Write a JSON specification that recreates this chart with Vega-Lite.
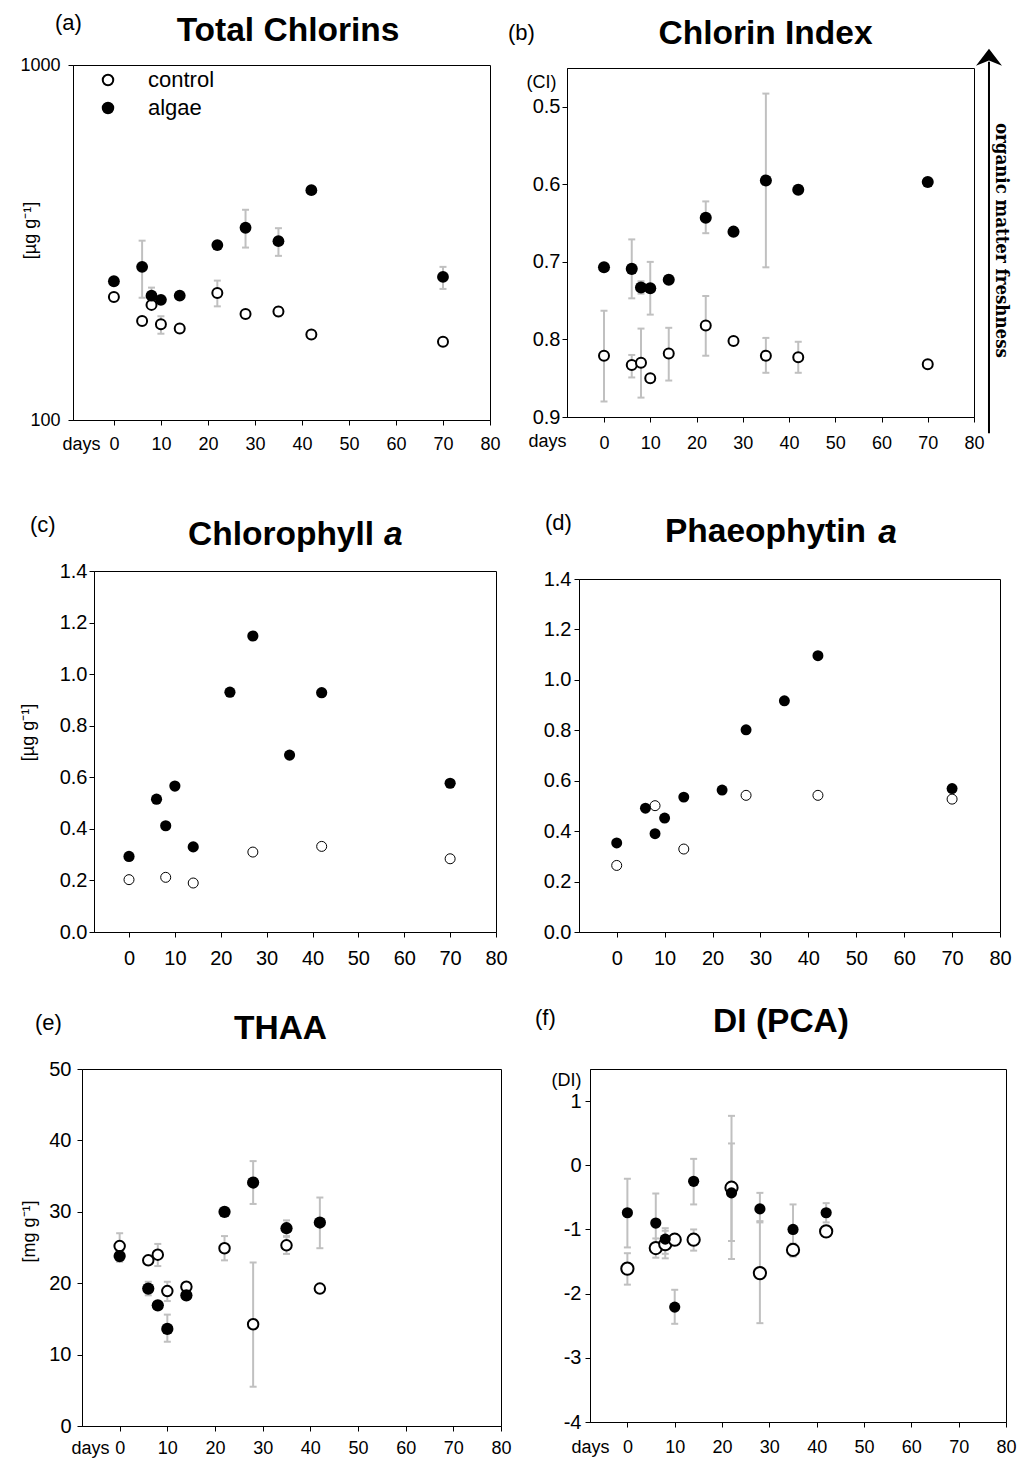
{
  "$schema": "https://vega.github.io/schema/vega-lite/v6.json",
  "padding": 0,
  "background": "white",
  "spacing": 0,
  "bounds": "flush",
  "config": {
    "font": "Liberation Sans",
    "view": {"stroke": "#000", "strokeWidth": 1},
    "axis": {"grid": false, "domainColor": "#000", "tickColor": "#000", "labelColor": "#000", "titleColor": "#000", "labelFontSize": 18, "titleFontSize": 18, "titleFontWeight": "normal", "tickSize": 5, "labelFlush": false, "labelOverlap": false, "labelFont": "Liberation Sans", "titleFont": "Liberation Sans"},
    "title": {"font": "Liberation Sans", "fontSize": 33.5, "fontWeight": "bold", "color": "#000", "frame": "group"}
  },
  "datasets": {
    "A": [
      {"d": 0, "g": "control", "v": 222},
      {"d": 6, "g": "control", "v": 190},
      {"d": 8, "g": "control", "v": 211},
      {"d": 10, "g": "control", "v": 186, "lo": 175, "hi": 196},
      {"d": 14, "g": "control", "v": 181},
      {"d": 22, "g": "control", "v": 228, "lo": 209, "hi": 247},
      {"d": 28, "g": "control", "v": 199},
      {"d": 35, "g": "control", "v": 202, "lo": 196, "hi": 208},
      {"d": 42, "g": "control", "v": 174},
      {"d": 70, "g": "control", "v": 166},
      {"d": 0, "g": "algae", "v": 246},
      {"d": 6, "g": "algae", "v": 270, "lo": 221, "hi": 320},
      {"d": 8, "g": "algae", "v": 224, "lo": 213, "hi": 236},
      {"d": 10, "g": "algae", "v": 218},
      {"d": 14, "g": "algae", "v": 224},
      {"d": 22, "g": "algae", "v": 311},
      {"d": 28, "g": "algae", "v": 348, "lo": 306, "hi": 391},
      {"d": 35, "g": "algae", "v": 319, "lo": 290, "hi": 347},
      {"d": 42, "g": "algae", "v": 444},
      {"d": 70, "g": "algae", "v": 253, "lo": 234, "hi": 270}
    ],
    "B": [
      {"d": 0, "g": "control", "v": 0.821, "lo": 0.763, "hi": 0.880},
      {"d": 6, "g": "control", "v": 0.833, "lo": 0.820, "hi": 0.849},
      {"d": 8, "g": "control", "v": 0.830, "lo": 0.786, "hi": 0.875},
      {"d": 10, "g": "control", "v": 0.850},
      {"d": 14, "g": "control", "v": 0.818, "lo": 0.785, "hi": 0.853},
      {"d": 22, "g": "control", "v": 0.782, "lo": 0.744, "hi": 0.821},
      {"d": 28, "g": "control", "v": 0.802},
      {"d": 35, "g": "control", "v": 0.821, "lo": 0.798, "hi": 0.843},
      {"d": 42, "g": "control", "v": 0.823, "lo": 0.803, "hi": 0.843},
      {"d": 70, "g": "control", "v": 0.832},
      {"d": 0, "g": "algae", "v": 0.707},
      {"d": 6, "g": "algae", "v": 0.709, "lo": 0.671, "hi": 0.747},
      {"d": 8, "g": "algae", "v": 0.733, "lo": 0.725, "hi": 0.741},
      {"d": 10, "g": "algae", "v": 0.734, "lo": 0.700, "hi": 0.768},
      {"d": 14, "g": "algae", "v": 0.723},
      {"d": 22, "g": "algae", "v": 0.643, "lo": 0.622, "hi": 0.663},
      {"d": 28, "g": "algae", "v": 0.661},
      {"d": 35, "g": "algae", "v": 0.595, "lo": 0.483, "hi": 0.707},
      {"d": 42, "g": "algae", "v": 0.607},
      {"d": 70, "g": "algae", "v": 0.597, "lo": 0.592, "hi": 0.602}
    ],
    "C": [
      {"d": 0, "g": "control", "v": 0.203},
      {"d": 8, "g": "control", "v": 0.212},
      {"d": 14, "g": "control", "v": 0.190},
      {"d": 27, "g": "control", "v": 0.310},
      {"d": 42, "g": "control", "v": 0.332},
      {"d": 70, "g": "control", "v": 0.284},
      {"d": 0, "g": "algae", "v": 0.293},
      {"d": 6, "g": "algae", "v": 0.515},
      {"d": 8, "g": "algae", "v": 0.412},
      {"d": 10, "g": "algae", "v": 0.566},
      {"d": 14, "g": "algae", "v": 0.330},
      {"d": 22, "g": "algae", "v": 0.930},
      {"d": 27, "g": "algae", "v": 1.148},
      {"d": 35, "g": "algae", "v": 0.686},
      {"d": 42, "g": "algae", "v": 0.928},
      {"d": 70, "g": "algae", "v": 0.577}
    ],
    "D": [
      {"d": 0, "g": "control", "v": 0.264},
      {"d": 8, "g": "control", "v": 0.501},
      {"d": 14, "g": "control", "v": 0.329},
      {"d": 27, "g": "control", "v": 0.542},
      {"d": 42, "g": "control", "v": 0.542},
      {"d": 70, "g": "control", "v": 0.527},
      {"d": 0, "g": "algae", "v": 0.353},
      {"d": 6, "g": "algae", "v": 0.491},
      {"d": 8, "g": "algae", "v": 0.390},
      {"d": 10, "g": "algae", "v": 0.452},
      {"d": 14, "g": "algae", "v": 0.535},
      {"d": 22, "g": "algae", "v": 0.563},
      {"d": 27, "g": "algae", "v": 0.802},
      {"d": 35, "g": "algae", "v": 0.917},
      {"d": 42, "g": "algae", "v": 1.096},
      {"d": 70, "g": "algae", "v": 0.569}
    ],
    "E": [
      {"d": 0, "g": "control", "v": 25.2, "lo": 23.4, "hi": 27.0},
      {"d": 6, "g": "control", "v": 23.2},
      {"d": 8, "g": "control", "v": 24.0, "lo": 22.4, "hi": 25.5},
      {"d": 10, "g": "control", "v": 18.9, "lo": 17.5, "hi": 20.2},
      {"d": 14, "g": "control", "v": 19.5},
      {"d": 22, "g": "control", "v": 24.9, "lo": 23.2, "hi": 26.6},
      {"d": 28, "g": "control", "v": 14.25, "lo": 5.5, "hi": 22.9},
      {"d": 35, "g": "control", "v": 25.3, "lo": 24.1, "hi": 26.5},
      {"d": 42, "g": "control", "v": 19.25},
      {"d": 0, "g": "algae", "v": 23.8, "lo": 23.0, "hi": 24.6},
      {"d": 6, "g": "algae", "v": 19.25, "lo": 18.3, "hi": 20.2},
      {"d": 8, "g": "algae", "v": 16.9},
      {"d": 10, "g": "algae", "v": 13.6, "lo": 11.8, "hi": 15.6},
      {"d": 14, "g": "algae", "v": 18.3},
      {"d": 22, "g": "algae", "v": 30.0},
      {"d": 28, "g": "algae", "v": 34.1, "lo": 31.1, "hi": 37.1},
      {"d": 35, "g": "algae", "v": 27.7, "lo": 26.6, "hi": 28.8},
      {"d": 42, "g": "algae", "v": 28.5, "lo": 24.9, "hi": 32.0}
    ],
    "F": [
      {"d": 0, "g": "control", "v": -1.61, "lo": -1.86, "hi": -1.37},
      {"d": 6, "g": "control", "v": -1.29, "lo": -1.44, "hi": -1.14},
      {"d": 8, "g": "control", "v": -1.23, "lo": -1.45, "hi": -1.02},
      {"d": 10, "g": "control", "v": -1.16},
      {"d": 14, "g": "control", "v": -1.16, "lo": -1.33, "hi": -1.0},
      {"d": 22, "g": "control", "v": -0.35, "lo": -1.46, "hi": 0.77},
      {"d": 28, "g": "control", "v": -1.68, "lo": -2.46, "hi": -0.87},
      {"d": 35, "g": "control", "v": -1.32, "lo": -1.42, "hi": -1.22},
      {"d": 42, "g": "control", "v": -1.03},
      {"d": 0, "g": "algae", "v": -0.74, "lo": -1.28, "hi": -0.21},
      {"d": 6, "g": "algae", "v": -0.90, "lo": -1.36, "hi": -0.44},
      {"d": 8, "g": "algae", "v": -1.15, "lo": -1.38, "hi": -0.98},
      {"d": 10, "g": "algae", "v": -2.21, "lo": -2.47, "hi": -1.94},
      {"d": 14, "g": "algae", "v": -0.25, "lo": -0.61, "hi": 0.10},
      {"d": 22, "g": "algae", "v": -0.43, "lo": -1.18, "hi": 0.34},
      {"d": 28, "g": "algae", "v": -0.68, "lo": -0.89, "hi": -0.43},
      {"d": 35, "g": "algae", "v": -1.0, "lo": -1.42, "hi": -0.61},
      {"d": 42, "g": "algae", "v": -0.74, "lo": -0.89, "hi": -0.59}
    ]
  },
  "vconcat": [
    {"width": 1, "height": 65, "data": {"values": [{}]}, "mark": {"type": "point", "opacity": 0}, "view": {"stroke": null}},
    {"hconcat": [
      {"width": 70, "height": 355, "data": {"values": [{}]}, "mark": {"type": "point", "opacity": 0}, "view": {"stroke": null},
       "title": {"text": "(a)", "fontSize": 22, "fontWeight": "normal", "anchor": "start", "dx": 52, "offset": 30}},
      {
        "width": 417, "height": 355,
        "title": {"text": "Total Chlorins", "anchor": "middle", "dx": 6.5, "offset": 8},
        "data": {"name": "A"},
        "encoding": {
          "x": {"field": "d", "type": "quantitative",
                "scale": {"domain": [-8.7, 80], "nice": false, "zero": false},
                "axis": {"values": [0, 10, 20, 30, 40, 50, 60, 70, 80], "labelFlush": false, "labelPadding": 10,
                         "title": "days", "titleX": 27, "titleY": 29, "titleAngle": 0, "titleAlign": "right", "titleBaseline": "alphabetic"}}
        },
        "layer": [
          {"transform": [{"filter": "isValid(datum.lo)"}],
           "mark": {"type": "rule", "color": "#c0c0c0", "strokeWidth": 2},
           "encoding": {"y": {"field": "lo", "type": "quantitative",
                              "scale": {"type": "log", "domain": [100, 1000], "nice": false},
                              "axis": {"values": [100, 1000], "format": "d", "labelFlush": false, "labelPadding": 8,
                                       "title": "[µg g⁻¹]", "titleX": -43, "titleY": 165, "titleAngle": 270, "titleAlign": "center", "titleBaseline": "middle"}},
                        "y2": {"field": "hi"}}},
          {"transform": [{"filter": "isValid(datum.lo)"}],
           "mark": {"type": "tick", "orient": "horizontal", "color": "#c0c0c0", "size": 7, "thickness": 2, "opacity": 1},
           "encoding": {"y": {"field": "lo", "type": "quantitative"}}},
          {"transform": [{"filter": "isValid(datum.hi)"}],
           "mark": {"type": "tick", "orient": "horizontal", "color": "#c0c0c0", "size": 7, "thickness": 2, "opacity": 1},
           "encoding": {"y": {"field": "hi", "type": "quantitative"}}},
          {"transform": [{"filter": "datum.g === 'control'"}],
           "mark": {"type": "point", "shape": "circle", "filled": true, "stroke": "#000", "strokeWidth": 2, "size": 100, "opacity": 1},
           "encoding": {"y": {"field": "v", "type": "quantitative"},
                        "fill": {"field": "g", "type": "nominal",
                                 "scale": {"domain": ["control", "algae"], "range": ["#ffffff", "#000000"]},
                                 "legend": {"orient": "none", "legendX": 94, "legendY": 69, "title": null, "labelFontSize": 22, "labelFont": "Liberation Sans", "labelColor": "#000", "labelOffset": 29, "rowPadding": 6, "symbolType": "circle", "symbolSize": 110, "symbolStrokeWidth": 2, "symbolStrokeColor": "#000", "padding": 0}}}},
          {"transform": [{"filter": "datum.g === 'algae'"}],
           "mark": {"type": "point", "shape": "circle", "filled": true, "stroke": "#000", "strokeWidth": 0, "size": 140, "opacity": 1},
           "encoding": {"y": {"field": "v", "type": "quantitative"},
                        "fill": {"field": "g", "type": "nominal"}}}
        ]
      },
      {"width": 77, "height": 349, "data": {"values": [{}]}, "mark": {"type": "point", "opacity": 0}, "view": {"stroke": null},
       "title": {"text": "(b)", "fontSize": 22, "fontWeight": "normal", "anchor": "start", "dx": 18, "offset": 20}},
      {"vconcat": [
        {"width": 1, "height": 3, "data": {"values": [{}]}, "mark": {"type": "point", "opacity": 0}, "view": {"stroke": null}},
        {
          "width": 407, "height": 349,
          "title": {"text": "Chlorin Index", "anchor": "middle", "dx": -5, "offset": -3},
          "data": {"name": "B"},
          "encoding": {
            "x": {"field": "d", "type": "quantitative",
                  "scale": {"domain": [-8, 80], "nice": false, "zero": false},
                  "axis": {"values": [0, 10, 20, 30, 40, 50, 60, 70, 80], "labelFlush": false, "labelPadding": 12,
                           "title": "days", "titleX": -1, "titleY": 29, "titleAngle": 0, "titleAlign": "right", "titleBaseline": "alphabetic"}}
          },
          "layer": [
            {"transform": [{"filter": "isValid(datum.lo)"}],
             "mark": {"type": "rule", "color": "#c0c0c0", "strokeWidth": 2},
             "encoding": {"y": {"field": "lo", "type": "quantitative",
                                "scale": {"domain": [0.45, 0.9], "reverse": true, "nice": false, "zero": false},
                                "axis": {"values": [0.5, 0.6, 0.7, 0.8, 0.9], "format": ".1f", "labelFlush": false, "labelPadding": 2, "labelFontSize": 20,
                                         "title": "(CI)", "titleX": -11, "titleY": 19, "titleAngle": 0, "titleAlign": "right", "titleBaseline": "alphabetic"}},
                          "y2": {"field": "hi"}}},
            {"transform": [{"filter": "isValid(datum.lo)"}],
             "mark": {"type": "tick", "orient": "horizontal", "color": "#c0c0c0", "size": 7, "thickness": 2, "opacity": 1},
             "encoding": {"y": {"field": "lo", "type": "quantitative"}}},
            {"transform": [{"filter": "isValid(datum.hi)"}],
             "mark": {"type": "tick", "orient": "horizontal", "color": "#c0c0c0", "size": 7, "thickness": 2, "opacity": 1},
             "encoding": {"y": {"field": "hi", "type": "quantitative"}}},
            {"transform": [{"filter": "datum.g === 'control'"}],
             "mark": {"type": "point", "shape": "circle", "filled": true, "fill": "#fff", "stroke": "#000", "strokeWidth": 2, "size": 100, "opacity": 1},
             "encoding": {"y": {"field": "v", "type": "quantitative"}}},
            {"transform": [{"filter": "datum.g === 'algae'"}],
             "mark": {"type": "point", "shape": "circle", "filled": true, "fill": "#000", "strokeWidth": 0, "size": 145, "opacity": 1},
             "encoding": {"y": {"field": "v", "type": "quantitative"}}},
            {"transform": [{"filter": "datum.d === 0 && datum.g === 'algae'"}],
             "mark": {"type": "rule", "color": "#000", "strokeWidth": 2, "clip": false},
             "encoding": {"x": {"datum": 83.24}, "y": {"datum": 0.4421}, "y2": {"datum": 0.921}}},
            {"transform": [{"filter": "datum.d === 0 && datum.g === 'algae'"}],
             "mark": {"type": "point", "shape": "M0,-1L1,0.3L0,-0.1L-1,0.3Z", "filled": true, "fill": "#000", "strokeWidth": 0, "size": 676, "opacity": 1, "clip": false},
             "encoding": {"x": {"datum": 83.24}, "y": {"datum": 0.4421}}},
            {"transform": [{"filter": "datum.d === 0 && datum.g === 'algae'"}],
             "mark": {"type": "text", "text": "organic matter freshness", "angle": 90, "font": "DejaVu Serif Condensed", "fontWeight": "bold", "fontSize": 18.5, "align": "center", "baseline": "middle", "color": "#000", "clip": false},
             "encoding": {"x": {"datum": 86.05}, "y": {"datum": 0.6723}}}
          ]
        }
      ], "spacing": 0, "bounds": "flush"}
    ], "spacing": 0, "bounds": "flush"},
    {"width": 1, "height": 506, "data": {"values": [{}]}, "mark": {"type": "point", "opacity": 0}, "view": {"stroke": null}},
    {"hconcat": [
      {"width": 91, "height": 361, "data": {"values": [{}]}, "mark": {"type": "point", "opacity": 0}, "view": {"stroke": null},
       "title": {"text": "(c)", "fontSize": 22, "fontWeight": "normal", "anchor": "start", "dx": 27, "offset": 34}},
      {
        "width": 402, "height": 361,
        "title": {"text": "Chlorophyll", "anchor": "start", "dx": 94, "offset": -34},
        "data": {"name": "C"},
        "encoding": {
          "x": {"field": "d", "type": "quantitative",
                "scale": {"domain": [-7.63, 80], "nice": false, "zero": false},
                "axis": {"values": [0, 10, 20, 30, 40, 50, 60, 70, 80], "labelFlush": false, "labelPadding": 11, "labelFontSize": 20, "title": null}}
        },
        "layer": [
          {"transform": [{"filter": "datum.g === 'control'"}],
           "mark": {"type": "point", "shape": "circle", "filled": true, "fill": "#fff", "stroke": "#000", "strokeWidth": 1, "size": 100, "opacity": 1},
           "encoding": {"y": {"field": "v", "type": "quantitative",
                              "scale": {"domain": [0, 1.4], "nice": false, "zero": false},
                              "axis": {"values": [0, 0.2, 0.4, 0.6, 0.8, 1.0, 1.2, 1.4], "format": ".1f", "labelFlush": false, "labelPadding": 2, "labelFontSize": 20,
                                       "title": "[µg g⁻¹]", "titleX": -66, "titleY": 161, "titleAngle": 270, "titleAlign": "center", "titleBaseline": "middle"}}}},
          {"transform": [{"filter": "datum.g === 'algae'"}],
           "mark": {"type": "point", "shape": "circle", "filled": true, "fill": "#000", "strokeWidth": 0, "size": 125, "opacity": 1},
           "encoding": {"y": {"field": "v", "type": "quantitative"}}},
          {"transform": [{"filter": "datum.d === 0 && datum.g === 'algae'"}],
           "mark": {"type": "text", "text": "a", "fontStyle": "italic", "fontWeight": "bold", "fontSize": 33.5, "font": "Liberation Sans", "align": "left", "baseline": "alphabetic", "color": "#000", "clip": false},
           "encoding": {"x": {"datum": 55.6}, "y": {"datum": 1.5008}}}
        ]
      },
      {"width": 83, "height": 353, "data": {"values": [{}]}, "mark": {"type": "point", "opacity": 0}, "view": {"stroke": null},
       "title": {"text": "(d)", "fontSize": 22, "fontWeight": "normal", "anchor": "start", "dx": 49, "offset": 36}},
      {"vconcat": [
        {"width": 1, "height": 8, "data": {"values": [{}]}, "mark": {"type": "point", "opacity": 0}, "view": {"stroke": null}},
        {
          "width": 421, "height": 353,
          "title": {"text": "Phaeophytin", "anchor": "start", "dx": 86, "offset": -34},
          "data": {"name": "D"},
          "encoding": {
            "x": {"field": "d", "type": "quantitative",
                  "scale": {"domain": [-7.87, 80], "nice": false, "zero": false},
                  "axis": {"values": [0, 10, 20, 30, 40, 50, 60, 70, 80], "labelFlush": false, "labelPadding": 11, "labelFontSize": 20, "title": null}}
          },
          "layer": [
            {"transform": [{"filter": "datum.g === 'control'"}],
             "mark": {"type": "point", "shape": "circle", "filled": true, "fill": "#fff", "stroke": "#000", "strokeWidth": 1, "size": 100, "opacity": 1},
             "encoding": {"y": {"field": "v", "type": "quantitative",
                                "scale": {"domain": [0, 1.4], "nice": false, "zero": false},
                                "axis": {"values": [0, 0.2, 0.4, 0.6, 0.8, 1.0, 1.2, 1.4], "format": ".1f", "labelFlush": false, "labelPadding": 3, "labelFontSize": 20, "title": null}}}},
            {"transform": [{"filter": "datum.g === 'algae'"}],
             "mark": {"type": "point", "shape": "circle", "filled": true, "fill": "#000", "strokeWidth": 0, "size": 120, "opacity": 1},
             "encoding": {"y": {"field": "v", "type": "quantitative"}}},
            {"transform": [{"filter": "datum.d === 0 && datum.g === 'algae'"}],
             "mark": {"type": "text", "text": "a", "fontStyle": "italic", "fontWeight": "bold", "fontSize": 33.5, "font": "Liberation Sans", "align": "left", "baseline": "alphabetic", "color": "#000", "clip": false},
             "encoding": {"x": {"datum": 54.6}, "y": {"datum": 1.5428}}}
          ]
        }
      ], "spacing": 0, "bounds": "flush"}
    ], "spacing": 0, "bounds": "flush"},
    {"width": 1, "height": 498, "data": {"values": [{}]}, "mark": {"type": "point", "opacity": 0}, "view": {"stroke": null}},
    {"hconcat": [
      {"width": 79, "height": 357, "data": {"values": [{}]}, "mark": {"type": "point", "opacity": 0}, "view": {"stroke": null},
       "title": {"text": "(e)", "fontSize": 22, "fontWeight": "normal", "anchor": "start", "dx": 32, "offset": 34}},
      {
        "width": 419, "height": 357,
        "title": {"text": "THAA", "anchor": "middle", "dx": -11, "offset": 13},
        "data": {"name": "E"},
        "encoding": {
          "x": {"field": "d", "type": "quantitative",
                "scale": {"domain": [-7.9, 80], "nice": false, "zero": false},
                "axis": {"values": [0, 10, 20, 30, 40, 50, 60, 70, 80], "labelFlush": false, "labelPadding": 8,
                         "title": "days", "titleX": 27, "titleY": 27, "titleAngle": 0, "titleAlign": "right", "titleBaseline": "alphabetic"}}
        },
        "layer": [
          {"transform": [{"filter": "isValid(datum.lo)"}],
           "mark": {"type": "rule", "color": "#c0c0c0", "strokeWidth": 2},
           "encoding": {"y": {"field": "lo", "type": "quantitative",
                              "scale": {"domain": [0, 50], "nice": false, "zero": false},
                              "axis": {"values": [0, 10, 20, 30, 40, 50], "format": "d", "labelFlush": false, "labelPadding": 6, "labelFontSize": 20,
                                       "title": "[mg g⁻¹]", "titleX": -53, "titleY": 162, "titleAngle": 270, "titleAlign": "center", "titleBaseline": "middle"}},
                        "y2": {"field": "hi"}}},
          {"transform": [{"filter": "isValid(datum.lo)"}],
           "mark": {"type": "tick", "orient": "horizontal", "color": "#c0c0c0", "size": 7, "thickness": 2, "opacity": 1},
           "encoding": {"y": {"field": "lo", "type": "quantitative"}}},
          {"transform": [{"filter": "isValid(datum.hi)"}],
           "mark": {"type": "tick", "orient": "horizontal", "color": "#c0c0c0", "size": 7, "thickness": 2, "opacity": 1},
           "encoding": {"y": {"field": "hi", "type": "quantitative"}}},
          {"transform": [{"filter": "datum.g === 'control'"}],
           "mark": {"type": "point", "shape": "circle", "filled": true, "fill": "#fff", "stroke": "#000", "strokeWidth": 2, "size": 110, "opacity": 1},
           "encoding": {"y": {"field": "v", "type": "quantitative"}}},
          {"transform": [{"filter": "datum.g === 'algae'"}],
           "mark": {"type": "point", "shape": "circle", "filled": true, "fill": "#000", "strokeWidth": 0, "size": 150, "opacity": 1},
           "encoding": {"y": {"field": "v", "type": "quantitative"}}}
        ]
      },
      {"width": 89, "height": 353, "data": {"values": [{}]}, "mark": {"type": "point", "opacity": 0}, "view": {"stroke": null},
       "title": {"text": "(f)", "fontSize": 22, "fontWeight": "normal", "anchor": "start", "dx": 34, "offset": 39}},
      {
        "width": 416, "height": 353,
        "title": {"text": "DI (PCA)", "anchor": "middle", "dx": -17, "offset": 30},
        "data": {"name": "F"},
        "encoding": {
          "x": {"field": "d", "type": "quantitative",
                "scale": {"domain": [-7.9, 80], "nice": false, "zero": false},
                "axis": {"values": [0, 10, 20, 30, 40, 50, 60, 70, 80], "labelFlush": false, "labelPadding": 11,
                         "title": "days", "titleX": 19, "titleY": 30, "titleAngle": 0, "titleAlign": "right", "titleBaseline": "alphabetic"}}
        },
        "layer": [
          {"transform": [{"filter": "isValid(datum.lo)"}],
           "mark": {"type": "rule", "color": "#c0c0c0", "strokeWidth": 2},
           "encoding": {"y": {"field": "lo", "type": "quantitative",
                              "scale": {"domain": [-4, 1.5], "nice": false, "zero": false},
                              "axis": {"values": [-4, -3, -2, -1, 0, 1], "labelExpr": "datum.value + ''", "labelFlush": false, "labelPadding": 4, "labelFontSize": 20,
                                       "title": "(DI)", "titleX": -9, "titleY": 16, "titleAngle": 0, "titleAlign": "right", "titleBaseline": "alphabetic"}},
                        "y2": {"field": "hi"}}},
          {"transform": [{"filter": "isValid(datum.lo)"}],
           "mark": {"type": "tick", "orient": "horizontal", "color": "#c0c0c0", "size": 7, "thickness": 2, "opacity": 1},
           "encoding": {"y": {"field": "lo", "type": "quantitative"}}},
          {"transform": [{"filter": "isValid(datum.hi)"}],
           "mark": {"type": "tick", "orient": "horizontal", "color": "#c0c0c0", "size": 7, "thickness": 2, "opacity": 1},
           "encoding": {"y": {"field": "hi", "type": "quantitative"}}},
          {"transform": [{"filter": "datum.g === 'control'"}],
           "mark": {"type": "point", "shape": "circle", "filled": true, "fill": "#fff", "stroke": "#000", "strokeWidth": 2, "size": 150, "opacity": 1},
           "encoding": {"y": {"field": "v", "type": "quantitative"}}},
          {"transform": [{"filter": "datum.g === 'algae'"}],
           "mark": {"type": "point", "shape": "circle", "filled": true, "fill": "#000", "strokeWidth": 0, "size": 125, "opacity": 1},
           "encoding": {"y": {"field": "v", "type": "quantitative"}}}
        ]
      }
    ], "spacing": 0, "bounds": "flush"}
  ]
}
